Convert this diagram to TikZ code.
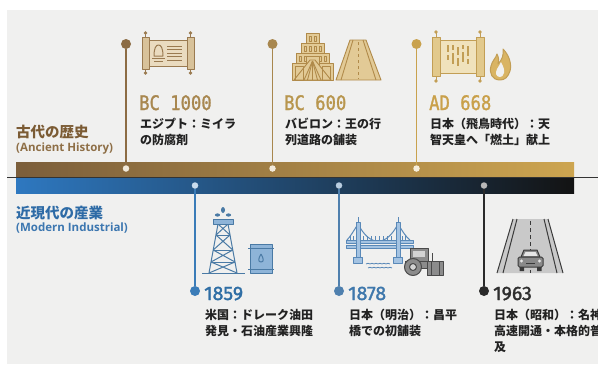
\documentclass[tikz,border=0pt]{standalone}
\usepackage{fontspec}
\setmainfont{Open Sans}
\newfontfamily\jp{Noto Sans CJK JP}
\newfontfamily\yearmono{DejaVu Sans Mono}[FakeStretch=0.86,FakeBold=1.3]
\newfontfamily\yearsans{Fira Sans}[FakeBold=1.6]
\definecolor{paper}{HTML}{F0F0EF}
\definecolor{goldA}{HTML}{7B5E3B}
\definecolor{goldB}{HTML}{A88548}
\definecolor{goldC}{HTML}{CDA550}
\definecolor{blueA}{HTML}{2E78C0}
\definecolor{blueB}{HTML}{22466C}
\definecolor{blueC}{HTML}{131313}
\definecolor{antTitle}{HTML}{7B5B34}
\definecolor{antSub}{HTML}{8E6F47}
\definecolor{modTitle}{HTML}{2E6BA6}
\definecolor{modSub}{HTML}{3D77B0}
\definecolor{mkA}{HTML}{8C6C44}
\definecolor{mkB}{HTML}{A8874E}
\definecolor{mkC}{HTML}{C9A24E}
\definecolor{mkD}{HTML}{3A7CB8}
\definecolor{mkE}{HTML}{4F80AE}
\definecolor{mkF}{HTML}{2A2A2A}
\definecolor{pinGold}{HTML}{F2EADB}
\definecolor{pinGoldB}{HTML}{F6EEDC}
\definecolor{pinBlue}{HTML}{C9DCEE}
\definecolor{pinBlueB}{HTML}{B9CDE0}
\definecolor{pinGray}{HTML}{B8B8B8}
\definecolor{yrA}{HTML}{A8874F}
\definecolor{yrB}{HTML}{B8964E}
\definecolor{yrC}{HTML}{C9A04A}
\definecolor{yrD}{HTML}{2F6EA5}
\definecolor{yrE}{HTML}{3F78AC}
\definecolor{yrF}{HTML}{2E2E2E}
\definecolor{bodytext}{HTML}{222222}
\definecolor{scrollS}{HTML}{9A7A50}
\definecolor{scrollF}{HTML}{EADBBF}
\definecolor{scrollR}{HTML}{D8C29A}
\definecolor{zigS}{HTML}{B08A4A}
\definecolor{zigF}{HTML}{E2CA96}
\definecolor{sc3S}{HTML}{C29E55}
\definecolor{sc3F}{HTML}{F0E2BC}
\definecolor{sc3R}{HTML}{E2C98C}
\definecolor{flameF}{HTML}{D9B463}
\definecolor{oilS}{HTML}{4A7AA5}
\definecolor{oilF}{HTML}{8EB4D8}
\definecolor{brS}{HTML}{5A89B8}
\definecolor{brF}{HTML}{A4C3E2}
\definecolor{rlS}{HTML}{4A4A4A}
\definecolor{rlF}{HTML}{8C8C8C}
\definecolor{rlL}{HTML}{D3D3D3}
\definecolor{rdF}{HTML}{C9C9C9}
\definecolor{rdS}{HTML}{3A3A3A}
\definecolor{carF}{HTML}{8A8A8A}
\definecolor{carL}{HTML}{E6E6E6}
\tikzset{
  topdot/.style={circle,inner sep=0pt,minimum size=10pt,fill=#1},
  bardot/.style={circle,inner sep=0pt,minimum size=6.5pt,fill=#1},
  botdot/.style={circle,inner sep=0pt,minimum size=10pt,fill=#1},
  stem/.style={line width=1.5pt,draw=#1},
  txt/.style={inner sep=0pt,anchor=base west},
  yearA/.style={txt,font=\yearmono\fontsize{20}{20}\selectfont},
  yearB/.style={txt,font=\yearsans\fontsize{19.5}{19.5}\selectfont},
  desc/.style={txt,text=bodytext,font=\jp\bfseries\fontsize{12}{12}\selectfont},
  ttl/.style={txt,font=\jp\bfseries\fontsize{14.5}{14.5}\selectfont},
  sub/.style={txt,font=\bfseries\fontsize{11.5}{11.5}\selectfont},
}
\begin{document}
\begin{tikzpicture}[x=1pt,y=-1pt]
\useasboundingbox (0,0) rectangle (598,367);
\clip (0,0) rectangle (598,367);
\fill[white] (0,0) rectangle (598,367);
\fill[paper] (7,10) rectangle (598,364);

% ---- the two era bands ----
\shade[left color=goldA,middle color=goldB,right color=goldC] (16,162) rectangle (574,176);
\shade[left color=blueA,middle color=blueB,right color=blueC] (16,178) rectangle (574,193);
\draw[line width=0.8pt,color=black!80] (7,177) -- (598,177);

% ---- era titles ----
\node[ttl,text=antTitle] (tAnc) at (16,137) {古代の歴史};
\node[sub,text=antSub] (sAnc) at (16,151.5) {(Ancient History)};
\node[ttl,text=modTitle] (tMod) at (16,218) {近現代の産業};
\node[sub,text=modSub] (sMod) at (16,231.5) {(Modern Industrial)};

% ---- markers above the bands ----
\node[topdot=mkA] (a1) at (126,44) {};
\node[bardot=pinGold] (b1) at (126,168.5) {};
\node[topdot=mkB] (a2) at (272.5,44) {};
\node[bardot=pinGold] (b2) at (272.5,168.5) {};
\node[topdot=mkC] (a3) at (416.5,44) {};
\node[bardot=pinGoldB] (b3) at (416.5,168.5) {};
\draw[stem=mkA] (a1) -- (b1);
\draw[stem=mkB] (a2) -- (b2);
\draw[stem=mkC] (a3) -- (b3);

% ---- markers below the bands ----
\node[bardot=pinBlue] (c1) at (195,185.5) {};
\node[botdot=mkD] (d1) at (195,291) {};
\node[bardot=pinBlueB] (c2) at (339,185.5) {};
\node[botdot=mkE] (d2) at (339,291) {};
\node[bardot=pinGray] (c3) at (484,185.5) {};
\node[botdot=mkF] (d3) at (484,291) {};
\draw[stem=mkD] (c1) -- (d1);
\draw[stem=mkE] (c2) -- (d2);
\draw[stem=mkF] (c3) -- (d3);

% ---- ancient events ----
\node[yearA,text=yrA] (y1) at (139,110) {BC 1000};
\node[desc] (e1a) at (140,128) {エジプト：ミイラ};
\node[desc] (e1b) at (140,144.5) {の防腐剤};
\node[yearA,text=yrB] (y2) at (284,110) {BC 600};
\node[desc] (e2a) at (285,128) {バビロン：王の行};
\node[desc] (e2b) at (285,144.5) {列道路の舗装};
\node[yearA,text=yrC] (y3) at (429,110) {AD 668};
\node[desc] (e3a) at (430,128) {日本（飛鳥時代）：天};
\node[desc] (e3b) at (430,144.5) {智天皇へ「燃土」献上};

% ---- modern events ----
\node[yearB,text=yrD] (y4) at (204,300) {1859};
\node[desc] (e4a) at (205,319) {米国：ドレーク油田};
\node[desc] (e4b) at (205,335) {発見・石油産業興隆};
\node[yearB,text=yrE] (y5) at (348,300) {1878};
\node[desc] (e5a) at (349,319) {日本（明治）：昌平};
\node[desc] (e5b) at (349,335) {橋での初舗装};
\node[yearB,text=yrF] (y6) at (493,300) {1963};
\node[desc] (e6a) at (494,319) {日本（昭和）：名神};
\node[desc] (e6b) at (494,335) {高速開通・本格的普};
\node[desc] (e6c) at (494,351) {及};

% ---- icon: papyrus scroll ----
\begin{scope}[draw=scrollS,line width=1pt,line join=round]
  \filldraw[fill=scrollF] (149,40) rectangle (187,66);
  \filldraw[fill=scrollR] (142,37) rectangle (149,69);
  \filldraw[fill=scrollR] (187,37) rectangle (194,69);
  \draw (145.5,33) -- (145.5,37) (145.5,69) -- (145.5,73)
        (190.5,33) -- (190.5,37) (190.5,69) -- (190.5,73);
  \fill[scrollS] (145.5,33) circle (1.8) (145.5,73) circle (1.8)
                 (190.5,33) circle (1.8) (190.5,73) circle (1.8);
  \draw (154,56) .. controls (154,48) and (156,45) .. (158.5,45)
        .. controls (161,45) and (163,48) .. (163,56) -- cycle;
  \draw (152,58.5) -- (165,58.5) (154,61.5) -- (163,61.5);
  \foreach \yy in {46,49.5,53,56.5,60} \draw (167,\yy) -- (182,\yy);
\end{scope}

% ---- icon: ziggurat and processional road ----
\begin{scope}[draw=zigS,fill=zigF,line width=0.9pt,line join=round]
  \filldraw (306,33) rectangle (319,43);
  \filldraw (301,43) rectangle (324,53);
  \filldraw (296,53) rectangle (329,63);
  \filldraw (292,63) rectangle (333,80);
  \foreach \xx in {309,314} \draw (\xx,36) rectangle (\xx+2.5,41);
  \foreach \xx in {304,309,314,319} \draw (\xx,46) rectangle (\xx+2.5,51);
  \foreach \xx in {299,304,319,324} \draw (\xx,56) rectangle (\xx+2.5,61);
  \filldraw (306,56) rectangle (319,67);
  \filldraw (310,60) -- (315,60) -- (331,80) -- (294,80) -- cycle;
  \foreach \xx in {304,307.5,312.5,317.5,321} \draw (312.5,61) -- (\xx,80);
  \draw (295,66) rectangle (303,80) (322,66) rectangle (330,80);
  \filldraw (350,40) -- (366,40) -- (381,80) -- (336,80) -- cycle;
  \draw (353,40) -- (341,80) (363,40) -- (376,80);
  \draw[dash pattern=on 3pt off 3pt] (358,42) -- (358,79);
\end{scope}

% ---- icon: Japanese scroll and fire ----
\begin{scope}[draw=sc3S,line width=1pt,line join=round]
  \filldraw[fill=sc3F] (440,40) rectangle (476,73);
  \filldraw[fill=sc3R] (432,37) rectangle (440,76);
  \filldraw[fill=sc3R] (476,37) rectangle (484,76);
  \draw (436,32) -- (436,37) (436,76) -- (436,81)
        (480,32) -- (480,37) (480,76) -- (480,81);
  \fill[sc3S] (436,32) circle (1.8) (436,81) circle (1.8)
              (480,32) circle (1.8) (480,81) circle (1.8);
  \foreach \xx/\ya/\yb in {448/45/52,448/55/60,453/45/50,453/53/64,458/47/55,458/58/66,463/45/49,463/52/62,468/46/56,468/59/64}
    \draw[line width=1.6pt] (\xx,\ya) -- (\xx,\yb);
  \filldraw[fill=flameF] (500,80) .. controls (492,80) and (489,73) .. (491,66)
    .. controls (492,61) and (496,58) .. (497,54)
    .. controls (499,58) and (499,61) .. (498,64)
    .. controls (502,60) and (504,55) .. (503,49)
    .. controls (509,55) and (512,64) .. (510,71)
    .. controls (508,77) and (505,80) .. (500,80) -- cycle;
  \fill[paper] (500,77) .. controls (496,77) and (495,73) .. (497,69)
    .. controls (499,66) and (500,64) .. (501,62)
    .. controls (503,66) and (505,70) .. (504,73)
    .. controls (503,76) and (502,77) .. (500,77) -- cycle;
\end{scope}

% ---- icon: oil derrick and barrel ----
\begin{scope}[draw=oilS,line width=1pt,line join=round]
  \draw (202,273) -- (245,273);
  \draw (209,273) -- (218,224) (237,273) -- (228,224);
  \draw (216,235) -- (230,235) (213.2,250) -- (232.8,250) (211,262) -- (235,262);
  \draw (218,224) -- (230,235) (228,224) -- (216,235);
  \draw (216,235) -- (232.8,250) (230,235) -- (213.2,250);
  \draw (213.2,250) -- (235,262) (232.8,250) -- (211,262);
  \draw (211,262) -- (237,273) (235,262) -- (209,273);
  \filldraw[fill=oilF] (213,219) rectangle (233,224);
  \fill[oilS] (223,210) ellipse (2 and 3) (217.5,215) ellipse (2.6 and 1.6) (228.5,215) ellipse (2.6 and 1.6);
  \filldraw[fill=oilF] (250,244) rectangle (272,273);
  \draw (248,248) -- (274,248) (248,269) -- (274,269);
  \draw (261,254) .. controls (258,259) and (258,262) .. (261,262)
        .. controls (264,262) and (264,259) .. (261,254);
\end{scope}

% ---- icon: suspension bridge and road roller ----
\begin{scope}[draw=brS,line width=1pt,line join=round]
  \draw (358,224) .. controls (370,247) and (386,247) .. (398,224);
  \draw (358,224) .. controls (353,232) and (350,237) .. (347,240);
  \draw (398,224) .. controls (403,232) and (406,237) .. (410,240);
  \foreach \xx in {363,367,371,375,379,383,387,391} \draw[line width=0.7pt] (\xx,236) -- (\xx,241);
  \foreach \xx in {350,353,402,405} \draw[line width=0.7pt] (\xx,236) -- (\xx,241);
  \filldraw[fill=brF] (346,240) rectangle (413,243);
  \filldraw[fill=brF] (346,245) rectangle (413,248);
  \filldraw[fill=brF] (356,222) rectangle (360,258);
  \filldraw[fill=brF] (396,222) rectangle (400,258);
  \draw (358,222) -- (358,217) (398,222) -- (398,217);
  \filldraw[fill=brF] (353.5,257) rectangle (362.5,263);
  \filldraw[fill=brF] (393.5,257) rectangle (402.5,263);
  \draw[line width=0.8pt] (366,264) \foreach \i in {0,...,5} {.. controls +(2,-2) and +(-2,0) .. ++(4,0)};
  \draw[line width=0.8pt] (368,268) \foreach \i in {0,...,5} {.. controls +(2,-2) and +(-2,0) .. ++(4,0)};
\end{scope}
\begin{scope}[draw=rlS,line width=1pt,line join=round]
  \filldraw[fill=rlF] (410,248) rectangle (428,261);
  \fill[rlL] (413,251) rectangle (425,257);
  \draw (432,253) -- (432,261);
  \filldraw[fill=rlF] (405,261) rectangle (441,268);
  \filldraw[fill=rlF] (413,267) circle (8.5);
  \filldraw[fill=rlL] (413,267) circle (3.5);
  \filldraw[fill=rlF] (427,261) rectangle (443,275.5);
  \draw (431,261) -- (431,275.5) (439,261) -- (439,275.5);
\end{scope}

% ---- icon: expressway and car ----
\begin{scope}[draw=rdS,line width=1pt,line join=round]
  \fill[rdF] (513,219) -- (548,219) -- (563,273) -- (497,273) -- cycle;
  \draw (513,219) -- (497,273) (517,219) -- (503,273);
  \draw (548,219) -- (563,273) (544,219) -- (557,273);
  \draw[dash pattern=on 4pt off 3pt] (530.5,221) -- (530.5,273);
  \filldraw[fill=carF] (521,257) -- (524,250) -- (537,250) -- (540,257) -- cycle;
  \fill[carL] (523.5,256) -- (525.5,252) -- (535.5,252) -- (537.5,256) -- cycle;
  \filldraw[fill=carF,rounded corners=1.5pt] (518,257) rectangle (543,267);
  \fill[carL] (521.5,261) circle (1.6) (539.5,261) circle (1.6);
  \draw (526,263.5) -- (535,263.5);
  \fill[rdS] (519.5,267) rectangle (524,271) (537,267) rectangle (541.5,271);
\end{scope}
\end{tikzpicture}
\end{document}
